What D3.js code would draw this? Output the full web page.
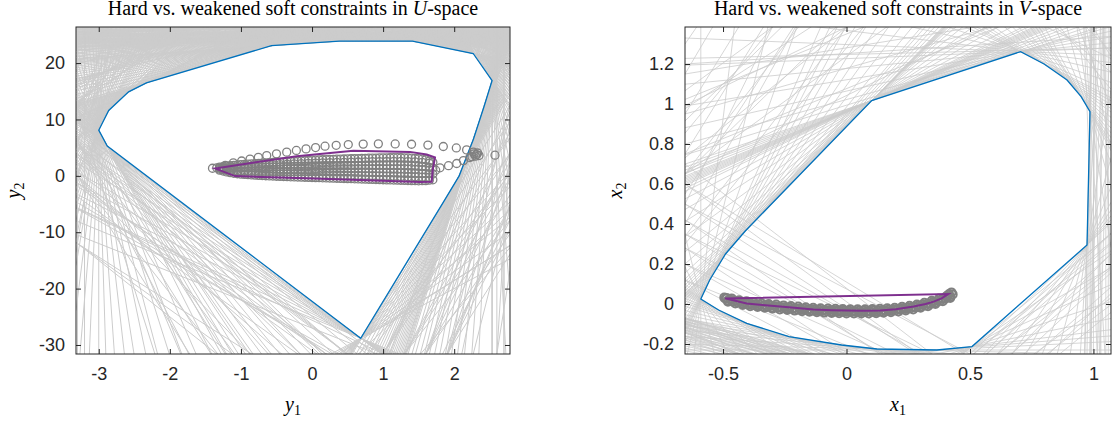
<!DOCTYPE html>
<html>
<head>
<meta charset="utf-8">
<script src="https://cdn.jsdelivr.net/npm/d3@7"></script>
<style>
body { margin: 0; background: #fff; }
svg { display: block; }
.tick text { font-family: "Liberation Sans", Arial, sans-serif; font-size: 18px; fill: #262626; }
.tick line { stroke: #262626; }
.domain { display: none; }
.ttl, .lab { font-family: "Liberation Serif", "Times New Roman", serif; fill: #000; }
</style>
</head>
<body>
<svg id="chart" width="1112" height="426"></svg>
<script>
// ---- U-space (left) ----
var uTicksX = [-3, -2, -1, 0, 1, 2]
var uTicksY = [-30, -20, -10, 0, 10, 20]

// hard constraint hull
var uHull = [
  [-3.0, 8.1], [-2.86, 11.6], [-2.58, 14.9], [-2.33, 16.5], [-0.57, 23.1], [0.384, 23.9], [1.413, 23.9],
  [2.267, 21.7], [2.533, 16.9], [2.42, 12.3], [2.27, 6.5], [2.07, 0], [1.865, -4.3], [0.685, -28.8], [-2.88, 5.3]
]

// weakened soft constraint set
var uSoft = [
  [-1.364, 1.31], [-0.215, 3.49], [0.581, 4.43], [1.378, 4.25], [1.613, 3.78], [1.73, 3.25],
  [1.697, 1.0], [1.683, -1.06], [1.519, -1.11], [0.018, -0.47], [-1.083, -0.05]
]

// constraint lines, grouped by a point they pass: [x, y, [slopes]]
var uFans = [
  [1.413, 23.9, [0, -0.03, -0.06, -0.1, -0.14, -0.19, -0.24, -0.3, -0.36, -0.43, -0.5, -0.58, -0.67, -0.77, -0.88,
    -1.0, -1.13, -1.27, -1.42, -1.6, -1.8, -2.0, -2.2, -2.4, -2.55]],
  [0.384, 23.9, [0.02, 0.05, 0.08, 0.12, 0.16, 0.2, 0.25, 0.3, 0.35, 0.41, 0.47, 0.54, 0.61, 0.68, 0.75, 0.82]],
  [-0.57, 23.1, [0.86, 0.92, 0.98, 1.05, 1.13, 1.22, 1.32, 1.43, 1.55, 1.68, 1.82, 1.97, 2.13, 2.3, 2.5, 2.7,
    2.92, 3.15, 3.4, 3.65]],
  [-2.33, 16.5, [3.8, 4.0, 4.2, 4.45, 4.7, 4.95, 5.25, 5.55, 5.85, 6.15, 6.35]],
  [-2.58, 14.9, [6.5, 6.8, 7.2, 7.6, 8.0, 8.5, 9.0, 9.6, 10.2, 10.8, 11.4]],
  [-2.86, 11.6, [12, 12.8, 13.7, 14.7, 15.8, 17, 18.3, 19.7, 21.2, 22.8, 24.5]],
  [-3.0, 8.1, [26, 28, 31, 34, 38, 43, 50, 60, 75, 100, 150, 300, 1000, -400, -180, -110, -80, -60, -48, -40,
    -34, -29, -25]],
  [-2.88, 5.3, [-23, -22, -21, -20, -19, -18, -17, -16, -15.2, -14.4, -13.6, -12.9, -12.2, -11.6, -11, -10.5,
    -10.1, -9.8]],
  [0.685, -28.8, [-9.5, -9.3, -9.1, -8.8, -8.5, -8.2, -7.8, -7.4, -6.9, -6.4, -5.8, -5.2, 6.7, 7.8, 9, 10.2,
    11.5, 12.8, 14.1, 15.5, 16.9, 18.3, 19.6, 20.6]],
  [2.07, 0, [21, 21.8, 22.6, 23.5, 24.4, 25.3, 26.2, 27.1, 28, 29, 30, 31, 32, 32.4]],
  [2.27, 6.5, [33, 33.8, 34.6, 35.4, 36.2, 37, 37.8, 38.6]],
  [2.42, 12.3, [39, 39.6, 40.2]],
  [2.533, 16.9, [41, 43, 45, 48, 51, 55, 60, 66, 74, 85, 100, 125, 170, 260, 600, 1000, -600, -250, -150, -100,
    -75, -58, -46, -38, -32, -27, -23, -20, -18.3]],
  [2.267, 21.7, [-17.5, -16, -14.5, -13, -11.7, -10.5, -9.4, -8.4, -7.5, -6.7, -6, -5.3, -4.7, -4.1, -3.6, -3.2,
    -2.9, -2.65]],
  [0.9, 24.6, [0.12, 0.05, -0.02, -0.1, -0.2, -0.35, 0.25, 0.4]],
  [0.9, 25.4, [0.15, 0.06, -0.04, -0.12, -0.25, 0.3, -0.5, 0.6]],
  [0.9, 26.1, [0.1, 0.02, -0.08, -0.18, 0.25, -0.4]],
  [-1.5, 24.3, [0.15, 0.3, 0.5, 0.7, 0.9, 1.1]],
  [-1.5, 25.2, [-0.1, 0.05, 0.2, 0.4, 0.6, 0.8, 1.0]],
  [-1.5, 26.0, [-0.2, -0.05, 0.1, 0.3, 0.5]],
  [2.0, 24.3, [-0.2, -0.5, -0.9, -1.4, -2.0]],
  [2.5, 22.5, [-2, -3, -4.5, -7]],
  [2.7, 20, [-6, -10, -20, 1000]],
  [-2.9, 18.5, [3, 3.8, 4.6, 5.5, 6.5, 8]],
  [-3.2, 14, [8, 10, 12.5, 16, 22]],
  [-1.8, 23.6, [0.9, 1.2, 1.6, 2.0, 2.4]],
  [-3.2, 8, [1000, 40, -40, 20, -20, 12, -12]],
  [-3.3, 12, [1000, 30, 15, 10, -30, -18]],
  [-3.3, 6, [-12, -14, -17, -20, -24, 30, 50]],
  [-3.3, 0, [-11, -13, -16, -20, 35, 60]],
  [-3.3, -12, [-8, -9, -10, 80, 1000]],
  [-2.6, -10, [-6, -7.5, -9]],
  [-1.0, -22, [-5, -7, -9]],
  [0.5, -31.6, [-9.3, -9.7, -10.1]],
  [0.2, -31.6, [-8.5, -9.2, -10]],
  [1.0, -31.6, [18, 20, 22, 24]],
  [1.3, -31.6, [16, 19, 21, 23]],
  [1.6, -31.6, [18, 22, 26, 30, 35]],
  [1.9, -31.6, [20, 25, 30, 38, 50]],
  [1.2, -25, [8, 12, 16]],
  [2.3, -20, [15, 30, 60]],
  [2.7, -10, [1000, 50, 25]],
  [2.6, -31.6, [80, 200, 1000]]
]

// closed-loop trajectory (one circle per sample)
var uTraj = [
  [-1.40, 1.35],
  [-1.3, 1.0], [-1.2, 0.7], [-1.1, 0.45], [-1.0, 0.3], [-0.9, 0.2], [-0.8, 0.12], [-0.7, 0.05], [-0.6, -0.01],
  [-0.5, -0.07], [-0.4, -0.12], [-0.3, -0.17], [-0.2, -0.21], [-0.1, -0.25], [0.0, -0.29], [0.1, -0.33], [0.2, -0.37],
  [0.3, -0.41], [0.4, -0.45], [0.5, -0.49], [0.6, -0.53], [0.7, -0.57], [0.8, -0.61], [0.9, -0.65], [1.0, -0.69],
  [1.1, -0.73], [1.2, -0.77], [1.3, -0.81], [1.4, -0.85], [1.5, -0.88], [1.6, -0.85], [1.7, -0.7],
  [1.65, -0.775], [1.55, -0.865], [1.45, -0.865], [1.35, -0.83], [1.25, -0.79], [1.15, -0.75], [1.05, -0.71],
  [0.95, -0.67], [0.85, -0.63], [0.75, -0.59], [0.65, -0.55], [0.55, -0.51], [0.45, -0.47], [0.35, -0.43], [0.25, -0.39],
  [0.15, -0.35], [0.05, -0.31], [-0.05, -0.27], [-0.15, -0.23], [-0.25, -0.19], [-0.35, -0.145], [-0.45, -0.095],
  [-0.55, -0.04], [-0.65, 0.02], [-0.75, 0.085], [-0.85, 0.16], [-0.95, 0.25], [-1.05, 0.375], [-1.15, 0.575], [-1.25, 0.85],
  [1.65, -0.233], [1.55, -0.225], [1.45, -0.183], [1.35, -0.142], [1.25, -0.105], [1.15, -0.073], [1.05, -0.043],
  [0.95, -0.015], [0.85, 0.013], [0.75, 0.04], [0.65, 0.067], [0.55, 0.093], [0.45, 0.12], [0.35, 0.147], [0.25, 0.172],
  [0.15, 0.197], [0.05, 0.22], [-0.05, 0.242], [-0.15, 0.263], [-0.25, 0.285], [-0.35, 0.315], [-0.45, 0.343],
  [-0.55, 0.38], [-0.65, 0.417], [-0.75, 0.462], [-0.85, 0.513], [-0.95, 0.58], [-1.05, 0.685], [-1.15, 0.87], [-1.25, 1.09],
  [-1.3, 1.18], [-1.2, 1.04], [-1.1, 0.92], [-1.0, 0.86], [-0.9, 0.827], [-0.8, 0.803], [-0.7, 0.783], [-0.6, 0.77],
  [-0.5, 0.757], [-0.4, 0.75], [-0.3, 0.74], [-0.2, 0.737], [-0.1, 0.733], [0.0, 0.73], [0.1, 0.723], [0.2, 0.713],
  [0.3, 0.703], [0.4, 0.69], [0.5, 0.677], [0.6, 0.663], [0.7, 0.65], [0.8, 0.637], [0.9, 0.62], [1.0, 0.603],
  [1.1, 0.583], [1.2, 0.56], [1.3, 0.527], [1.4, 0.483], [1.5, 0.43], [1.6, 0.383], [1.7, 0.33],
  [1.65, 0.356], [1.55, 0.406], [1.45, 0.456], [1.35, 0.505], [1.25, 0.543], [1.15, 0.571], [1.05, 0.593], [0.95, 0.611],
  [0.85, 0.628], [0.75, 0.643], [0.65, 0.656], [0.55, 0.67], [0.45, 0.683], [0.35, 0.696], [0.25, 0.708], [0.15, 0.718],
  [0.05, 0.726], [-0.05, 0.731], [-0.15, 0.735], [-0.25, 0.738], [-0.35, 0.745], [-0.45, 0.753], [-0.55, 0.763],
  [-0.65, 0.777], [-0.75, 0.793], [-0.85, 0.815], [-0.95, 0.843], [-1.05, 0.89], [-1.15, 0.98], [-1.25, 1.11],
  [1.65, 1.0], [1.55, 1.085], [1.45, 1.15], [1.35, 1.195], [1.25, 1.225], [1.15, 1.24], [1.05, 1.25], [0.95, 1.255],
  [0.85, 1.26], [0.75, 1.26], [0.65, 1.26], [0.55, 1.26], [0.45, 1.26], [0.35, 1.26], [0.25, 1.255], [0.15, 1.25],
  [0.05, 1.24], [-0.05, 1.225], [-0.15, 1.21], [-0.25, 1.195], [-0.35, 1.185], [-0.45, 1.17], [-0.55, 1.16],
  [-0.65, 1.15], [-0.75, 1.145], [-0.85, 1.14], [-0.95, 1.14], [-1.05, 1.155], [-1.15, 1.21], [-1.25, 1.28],
  [-1.3, 1.367], [-1.2, 1.38], [-1.1, 1.39], [-1.0, 1.42], [-0.9, 1.453], [-0.8, 1.487], [-0.7, 1.517], [-0.6, 1.55],
  [-0.5, 1.583], [-0.4, 1.62], [-0.3, 1.65], [-0.2, 1.683], [-0.1, 1.717], [0.0, 1.75], [0.1, 1.777], [0.2, 1.797],
  [0.3, 1.817], [0.4, 1.83], [0.5, 1.843], [0.6, 1.857], [0.7, 1.87], [0.8, 1.883], [0.9, 1.89], [1.0, 1.897],
  [1.1, 1.897], [1.2, 1.89], [1.3, 1.863], [1.4, 1.817], [1.5, 1.74], [1.6, 1.617], [1.7, 1.367],
  [1.65, 1.492], [1.55, 1.678], [1.45, 1.778], [1.35, 1.84], [1.25, 1.877], [1.15, 1.893], [1.05, 1.897], [0.95, 1.893],
  [0.85, 1.887], [0.75, 1.877], [0.65, 1.863], [0.55, 1.85], [0.45, 1.837], [0.35, 1.823], [0.25, 1.807], [0.15, 1.787],
  [0.05, 1.763], [-0.05, 1.733], [-0.15, 1.7], [-0.25, 1.667], [-0.35, 1.635], [-0.45, 1.6], [-0.55, 1.567],
  [-0.65, 1.533], [-0.75, 1.502], [-0.85, 1.47], [-0.95, 1.437], [-1.05, 1.405], [-1.15, 1.385], [-1.25, 1.373],
  [1.65, 2.233], [1.55, 2.395], [1.45, 2.483], [1.35, 2.532], [1.25, 2.555], [1.15, 2.553], [1.05, 2.543], [0.95, 2.525],
  [0.85, 2.507], [0.75, 2.48], [0.65, 2.453], [0.55, 2.427], [0.45, 2.4], [0.35, 2.373], [0.25, 2.338], [0.15, 2.303],
  [0.05, 2.26], [-0.05, 2.208], [-0.15, 2.157], [-0.25, 2.105], [-0.35, 2.055], [-0.45, 1.997], [-0.55, 1.94],
  [-0.65, 1.883], [-0.75, 1.828], [-0.85, 1.767], [-0.95, 1.7], [-1.05, 1.625], [-1.15, 1.55], [-1.25, 1.458],
  [-1.3, 1.55], [-1.2, 1.72], [-1.1, 1.86], [-1.0, 1.98], [-0.9, 2.08], [-0.8, 2.17], [-0.7, 2.25], [-0.6, 2.33],
  [-0.5, 2.41], [-0.4, 2.49], [-0.3, 2.56], [-0.2, 2.63], [-0.1, 2.7], [0.0, 2.77], [0.1, 2.83], [0.2, 2.88],
  [0.3, 2.93], [0.4, 2.97], [0.5, 3.01], [0.6, 3.05], [0.7, 3.09], [0.8, 3.13], [0.9, 3.16], [1.0, 3.19],
  [1.1, 3.21], [1.2, 3.22], [1.3, 3.2], [1.4, 3.15], [1.5, 3.05], [1.6, 2.85], [1.7, 2.4],
  [1.65, 2.625], [1.55, 2.95], [1.45, 3.1], [1.35, 3.175], [1.25, 3.21], [1.15, 3.215], [1.05, 3.2], [0.95, 3.175],
  [0.85, 3.145], [0.75, 3.11], [0.65, 3.07], [0.55, 3.03], [0.45, 2.99], [0.35, 2.95], [0.25, 2.905], [0.15, 2.855],
  [0.05, 2.8], [-0.05, 2.735], [-0.15, 2.665], [-0.25, 2.595], [-0.35, 2.525], [-0.45, 2.45], [-0.55, 2.37],
  [-0.65, 2.29], [-0.75, 2.21], [-0.85, 2.125], [-0.95, 2.03], [-1.05, 1.92], [-1.15, 1.79], [-1.25, 1.635],
  [-1.34, 1.42], [-1.22, 1.85], [-1.107, 2.30], [-0.99, 2.63], [-0.872, 2.96], [-0.755, 3.28], [-0.637, 3.60], [-0.50, 3.90],
  [-0.356, 4.20], [-0.22, 4.50], [-0.084, 4.78], [0.05, 5.02], [0.183, 5.26], [0.34, 5.42], [0.51, 5.55], [0.72, 5.63],
  [0.933, 5.67], [1.17, 5.66], [1.40, 5.60], [1.63, 5.45], [1.847, 5.20], [2.03, 4.95], [2.175, 4.60], [2.27, 4.20],
  [2.316, 3.78], [2.574, 3.66], [2.33, 4.05], [2.35, 3.60], [2.28, 3.90], [2.25, 3.40],
  [2.30, 3.50], [2.22, 3.25], [2.13, 2.70], [2.035, 2.19], [1.92, 1.80], [1.80, 1.42], [1.74, 1.0]
]

// ---- V-space (right) ----
var vTicksX = [-0.5, 0, 0.5, 1]
var vTicksY = [-0.2, 0, 0.2, 0.4, 0.6, 0.8, 1, 1.2]

var vHull = [
  [-0.59, 0.025], [-0.554, 0.12], [-0.49, 0.25], [-0.41, 0.365], [0.102, 1.017], [0.705, 1.262], [0.80, 1.20],
  [0.893, 1.12], [0.95, 1.037], [0.986, 0.962], [0.974, 0.295], [0.508, -0.213], [0.366, -0.23], [0.123, -0.225],
  [-0.02, -0.205], [-0.233, -0.163], [-0.404, -0.097], [-0.518, -0.03]
]

var vSoft = [
  [-0.492, 0.028], [-0.45, 0.016], [-0.404, 0.003], [-0.34, -0.005], [-0.269, -0.013], [-0.2, -0.02], [-0.134, -0.027],
  [-0.06, -0.031], [0.001, -0.033], [0.07, -0.034], [0.136, -0.032], [0.2, -0.026], [0.272, -0.013], [0.32, 0.0],
  [0.353, 0.012], [0.385, 0.028], [0.412, 0.05]
]

var vFans = [
  [0.102, 1.017, [0.42, 0.44, 0.46, 0.48, 0.5, 0.51, 0.52, 0.53, 0.54, 0.55, 0.56, 0.58, 0.6, 0.65, 0.72, 0.8, 0.9,
    1.0, 1.08, 1.14, 1.18, 1.2, 1.22, 1.24, 1.26, 1.28]],
  [-0.41, 0.365, [1.3, 1.33, 1.36, 1.4, 1.43]],
  [-0.49, 0.25, [1.5, 1.6, 1.72, 1.85, 2.0]],
  [-0.554, 0.12, [2.15, 2.3, 2.45, 2.6]],
  [-0.59, 0.025, [2.8, 3.5, 5, 10, 1000, -5, -2.5, -1.6, -1.2, -0.95, -0.8]],
  [0.705, 1.262, [0.38, 0.34, 0.28, 0.2, 0.12, 0.05, -0.05, -0.15, -0.28, -0.42, -0.55, -0.63]],
  [0.8, 1.2, [-0.68, -0.75, -0.82]],
  [0.893, 1.12, [-0.9, -1.05, -1.2, -1.35]],
  [0.95, 1.037, [-1.5, -1.7, -1.9, -2.05]],
  [0.986, 0.962, [-2.3, -3, -4.5, -8, -20, 1000, 100, 60]],
  [0.974, 0.295, [1.15, 1.3, 1.5, 1.8, 2.2, 3, 4.5, 8, 20, 50]],
  [0.508, -0.213, [0.15, 0.25, 0.4, 0.55, 0.7, 0.85, 1.0]],
  [0.366, -0.23, [0.0, 0.06, 0.1]],
  [0.123, -0.225, [-0.03, -0.08, -0.12]],
  [-0.02, -0.205, [-0.15, -0.18]],
  [-0.233, -0.163, [-0.21, -0.26, -0.31, -0.36]],
  [-0.404, -0.097, [-0.4, -0.45, -0.5, -0.56]],
  [-0.518, -0.03, [-0.6, -0.66, -0.72]],
  [0.99, 0.5, [1000]], [1.0, 0.5, [80]], [1.015, 0.5, [-80]], [1.03, 0.5, [1000]], [1.045, 0.5, [40]], [1.06, 0.5, [-50, 1000]],
  [1.0, 0.2, [1000, 30, -30]], [1.02, 0.0, [60]], [1.05, 0.9, [1000, -40]], [1.0, 1.2, [-3, -6]], [1.04, 1.3, [-2, -1.2]],
  [0.9, 1.33, [-0.6, -1.0, -1.5]],
  [0.55, -0.213, [1.09, 1.0]], [0.6, -0.213, [1.09, 1.2]], [0.65, -0.213, [1.1, 0.95]], [0.7, -0.213, [1.05, 1.25]],
  [0.75, -0.213, [1.15]], [0.8, -0.213, [1.1, 0.9]], [0.85, -0.213, [0.95, 1.2]], [0.9, -0.213, [1.0]],
  [-0.654, 0.55, [1.9]], [-0.654, 0.75, [2.0, 0.5]], [-0.654, 0.95, [2.0, 0.35]], [-0.654, 1.15, [2.1, 0.2]],
  [-0.654, 1.3, [1.8]], [-0.654, 1.228, [0.03]], [-0.654, 1.2, [0.08]], [-0.654, 0.4, [2.2]], [-0.654, 0.3, [1.5]],
  [-0.654, 0.65, [0.6, 0.9, 1.2, 1.6]], [-0.3, 1.385, [0.9, 1.5, 2.5]], [0.0, 1.385, [0.6, 1.0, 1.6]],
  [-0.5, 1.1, [0.5, 0.8, 1.2]],
  [-0.654, -0.07, [-0.36, -0.3, -0.42]], [-0.654, -0.075, [-0.38, -0.34]], [-0.654, -0.085, [-0.4, -0.33, -0.46]],
  [-0.654, -0.095, [-0.36, -0.42]], [-0.654, -0.1, [-0.45, -0.3, -0.38]], [-0.654, -0.115, [-0.35, -0.5, -0.28]],
  [-0.654, -0.12, [-0.4, -0.3]], [-0.654, -0.13, [-0.42, -0.32, -0.55]], [-0.654, -0.14, [-0.33, -0.5]],
  [-0.654, -0.145, [-0.38, -0.26, -0.47]], [-0.654, -0.16, [-0.35, -0.44, -0.25]], [-0.654, -0.17, [-0.38, -0.28]],
  [-0.654, -0.18, [-0.3, -0.4]], [-0.654, -0.19, [-0.33]], [-0.654, -0.2, [-0.35, -0.22]], [-0.654, -0.21, [-0.26]],
  [-0.654, -0.22, [-0.3]], [-0.654, -0.235, [-0.2]],
  [-0.654, 0.7, [-0.95]], [-0.654, 0.6, [-0.9, -0.75]], [-0.654, 0.5, [-0.8, -0.65]], [-0.654, 0.42, [-0.85, -0.7]],
  [-0.654, 0.35, [-0.75, -0.6]], [-0.654, 0.28, [-0.8, -0.62]], [-0.654, 0.2, [-0.7, -0.55]], [-0.654, 0.12, [-0.65, -0.5]]
]

var vTraj = [
  [-0.495, 0.032], [-0.485, 0.03],
  [-0.49, 0.027], [-0.47, 0.021], [-0.45, 0.016], [-0.43, 0.010], [-0.41, 0.005], [-0.39, 0.002], [-0.37, -0.001],
  [-0.35, -0.004], [-0.33, -0.006], [-0.31, -0.009], [-0.29, -0.011], [-0.27, -0.014], [-0.25, -0.016], [-0.23, -0.018],
  [-0.21, -0.020], [-0.19, -0.022], [-0.17, -0.024], [-0.15, -0.026], [-0.13, -0.027], [-0.11, -0.029], [-0.09, -0.030],
  [-0.07, -0.031], [-0.05, -0.032], [-0.03, -0.033], [-0.01, -0.033], [0.01, -0.034], [0.03, -0.034], [0.05, -0.034],
  [0.07, -0.034], [0.09, -0.034], [0.11, -0.033], [0.13, -0.032], [0.15, -0.031], [0.17, -0.029], [0.19, -0.027],
  [0.21, -0.024], [0.23, -0.021], [0.25, -0.018], [0.27, -0.014], [0.29, -0.009], [0.31, -0.004], [0.33, 0.002],
  [0.35, 0.010], [0.37, 0.018], [0.39, 0.027], [0.41, 0.037], [0.43, 0.048], [0.425, 0.058], [0.415, 0.05],
  [0.42, 0.036], [0.40, 0.026], [0.38, 0.016], [0.36, 0.008], [0.34, 0.0], [0.32, -0.007], [0.30, -0.012],
  [0.28, -0.017], [0.26, -0.021], [0.24, -0.025], [0.22, -0.028], [0.20, -0.031], [0.18, -0.034], [0.16, -0.036],
  [0.14, -0.038], [0.12, -0.039], [0.10, -0.040], [0.08, -0.040], [0.06, -0.040], [0.04, -0.040], [0.02, -0.040],
  [0.00, -0.039], [-0.02, -0.039], [-0.04, -0.038], [-0.06, -0.037], [-0.08, -0.036], [-0.10, -0.035], [-0.12, -0.034],
  [-0.14, -0.033], [-0.16, -0.031], [-0.18, -0.029], [-0.20, -0.027], [-0.22, -0.025], [-0.24, -0.023], [-0.26, -0.021],
  [-0.28, -0.019], [-0.30, -0.017], [-0.32, -0.014], [-0.34, -0.012], [-0.36, -0.009], [-0.38, -0.006], [-0.40, -0.002],
  [-0.42, 0.002], [-0.44, 0.007], [-0.46, 0.012], [-0.48, 0.018],
  [-0.48, 0.011], [-0.45, 0.003], [-0.42, -0.005], [-0.39, -0.011], [-0.36, -0.015], [-0.33, -0.019], [-0.30, -0.023],
  [-0.27, -0.027], [-0.24, -0.030], [-0.21, -0.033], [-0.18, -0.036], [-0.15, -0.039], [-0.12, -0.041], [-0.09, -0.043],
  [-0.06, -0.045], [-0.03, -0.046], [0.00, -0.047], [0.03, -0.047], [0.06, -0.047], [0.09, -0.047], [0.12, -0.046],
  [0.15, -0.044], [0.18, -0.041], [0.21, -0.037], [0.24, -0.032], [0.27, -0.027], [0.30, -0.019], [0.33, -0.011],
  [0.36, 0.0], [0.39, 0.014], [0.42, 0.03],
  [0.405, 0.04], [0.375, 0.027], [0.345, 0.016], [0.315, 0.006], [0.285, -0.003], [0.255, -0.009], [0.225, -0.014],
  [0.195, -0.019], [0.165, -0.021], [0.135, -0.024], [0.105, -0.025], [0.075, -0.026], [0.045, -0.026], [0.015, -0.026],
  [-0.015, -0.025], [-0.045, -0.024], [-0.075, -0.023], [-0.105, -0.021], [-0.135, -0.019], [-0.165, -0.016],
  [-0.195, -0.013], [-0.225, -0.010], [-0.255, -0.007], [-0.285, -0.003], [-0.315, 0.0], [-0.345, 0.004],
  [-0.375, 0.008], [-0.405, 0.014], [-0.435, 0.019], [-0.465, 0.028]
]

var svg = d3.select('#chart')

function flatFans(fans) {
  var out = []
  fans.forEach(function(f) { f[2].forEach(function(s) { out.push([f[0], f[1], s]) }) })
  return out
}

function panel(o) {
  var g = svg.append('g').attr('transform', 'translate(' + o.left + ',' + o.top + ')')
  var x = d3.scaleLinear().domain(o.xDomain).range([0, o.width])
  var y = d3.scaleLinear().domain(o.yDomain).range([o.height, 0])

  g.append('clipPath').attr('id', 'clip-' + o.id)
    .append('rect').attr('width', o.width).attr('height', o.height)
  var plot = g.append('g').attr('clip-path', 'url(#clip-' + o.id + ')')

  var xa = o.xDomain[0], xb = o.xDomain[1]
  plot.selectAll('line.con').data(flatFans(o.fans)).join('line')
    .attr('class', 'con')
    .each(function(d) {
      var s = d3.select(this)
      if (Math.abs(d[2]) >= 500) {
        s.attr('x1', x(d[0])).attr('x2', x(d[0])).attr('y1', y(o.yDomain[0])).attr('y2', y(o.yDomain[1]))
      } else {
        s.attr('x1', x(xa)).attr('y1', y(d[1] + d[2] * (xa - d[0])))
         .attr('x2', x(xb)).attr('y2', y(d[1] + d[2] * (xb - d[0])))
      }
    })
    .attr('stroke', '#cccccc').attr('stroke-width', o.lineWidth)

  var closed = d3.line().x(function(d) { return x(d[0]) }).y(function(d) { return y(d[1]) }).curve(d3.curveLinearClosed)

  plot.append('path').datum(o.hull).attr('d', closed)
    .attr('fill', 'none').attr('stroke', '#0072bd').attr('stroke-width', 1.3)

  plot.selectAll('circle').data(o.traj).join('circle')
    .attr('cx', function(d) { return x(d[0]) }).attr('cy', function(d) { return y(d[1]) })
    .attr('r', 4).attr('fill', 'none').attr('stroke', '#808080').attr('stroke-width', o.markerWidth)

  plot.append('path').datum(o.soft).attr('d', closed)
    .attr('fill', 'none').attr('stroke', '#7e2f8e').attr('stroke-width', 2)

  var fmt = function(d) { return String(d) }

  // axes with inward ticks on all four sides
  g.append('g').attr('transform', 'translate(0,' + o.height + ')')
    .call(d3.axisBottom(x).tickValues(o.xTicks).tickFormat(fmt).tickSizeInner(-5).tickSizeOuter(0).tickPadding(13))
  g.append('g')
    .call(d3.axisTop(x).tickValues(o.xTicks).tickFormat('').tickSizeInner(-5).tickSizeOuter(0))
  g.append('g')
    .call(d3.axisLeft(y).tickValues(o.yTicks).tickFormat(fmt).tickSizeInner(-5).tickSizeOuter(0).tickPadding(11))
  g.append('g').attr('transform', 'translate(' + o.width + ',0)')
    .call(d3.axisRight(y).tickValues(o.yTicks).tickFormat('').tickSizeInner(-5).tickSizeOuter(0))

  g.append('rect').attr('width', o.width).attr('height', o.height)
    .attr('fill', 'none').attr('stroke', '#262626').attr('stroke-width', 1)

  var t = g.append('text').attr('class', 'ttl').attr('x', o.width / 2).attr('y', -12)
    .attr('text-anchor', 'middle').style('font-size', '20px')
  t.append('tspan').text('Hard vs. weakened soft constraints in ')
  t.append('tspan').style('font-style', 'italic').text(o.space)
  t.append('tspan').text('-space')

  var xl = g.append('text').attr('class', 'lab').attr('x', o.width / 2).attr('y', 384)
    .attr('text-anchor', 'middle').style('font-size', '20px')
  xl.append('tspan').style('font-style', 'italic').text(o.xName)
  xl.append('tspan').attr('dy', 4).style('font-size', '14px').text('1')

  var yl = g.append('text').attr('class', 'lab')
    .attr('transform', 'translate(' + o.yLabelX + ',' + (o.height / 2) + ') rotate(-90)')
    .attr('text-anchor', 'middle').style('font-size', '20px')
  yl.append('tspan').style('font-style', 'italic').text(o.xName)
  yl.append('tspan').attr('dy', 4).style('font-size', '14px').text('2')
}

panel({
  id: 'u', left: 76, top: 27, width: 434, height: 327,
  xDomain: [-3.32, 2.785], yDomain: [-31.6, 26.4],
  xTicks: uTicksX, yTicks: uTicksY,
  fans: uFans, hull: uHull, soft: uSoft, traj: uTraj,
  space: 'U', xName: 'y', yLabelX: -56, lineWidth: 1.0, markerWidth: 1.3
})

panel({
  id: 'v', left: 685, top: 27, width: 426, height: 327,
  xDomain: [-0.654, 1.071], yDomain: [-0.25, 1.385],
  xTicks: vTicksX, yTicks: vTicksY,
  fans: vFans, hull: vHull, soft: vSoft, traj: vTraj,
  space: 'V', xName: 'x', yLabelX: -63, lineWidth: 0.8, markerWidth: 2.0
})
</script>
</body>
</html>
